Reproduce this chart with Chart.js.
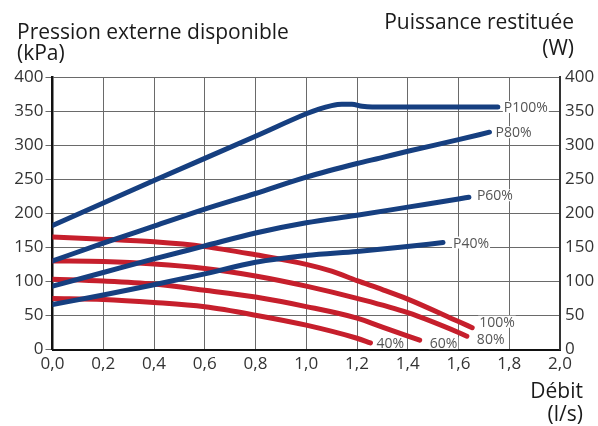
<!DOCTYPE html>
<html>
<head>
<meta charset="utf-8">
<script src="https://cdn.jsdelivr.net/npm/chart.js@4.4.1/dist/chart.umd.min.js"></script>
<style>
  html,body{margin:0;padding:0;background:#fff}
  #wrap{width:598px;height:426px;position:relative}
</style>
</head>
<body>
<div id="wrap"><canvas id="chart" width="598" height="426"></canvas></div>
<script>
// ---- data ----
// Puissance restituée (W), bleu
const p100X=[0,0.4,0.8,1.0,1.05,1.1,1.14,1.18,1.22,1.26,1.5,1.755];
const p100Y=[182,248,313,346,353,358,360,360,357,356,356,356];
const p80X=[0,0.2,0.4,0.6,0.8,1.0,1.2,1.29,1.4,1.6,1.722];
const p80Y=[130,156,181,206,229,253,273,281,291,308,319];
const p60X=[0,0.2,0.4,0.6,0.8,1.0,1.2,1.4,1.6,1.641];
const p60Y=[93,113,133,152,171,186,197,209,221,223.5];
const p40X=[0,0.2,0.4,0.6,0.8,1.0,1.2,1.37,1.539];
const p40Y=[66,80,95,111,128,138,144,150,157];
// Pression externe disponible (kPa), rouge
const r100X=[0,0.2,0.4,0.6,0.8,1.0,1.1,1.2,1.3,1.4,1.6,1.654];
const r100Y=[165,162,158,151,139,125,115,101,88,74,41,32];
const r80X=[0,0.2,0.4,0.6,0.8,1.0,1.2,1.4,1.6,1.633];
const r80Y=[130,129,125.5,119,108,93,75,54,25,19.5];
const r60X=[0,0.2,0.4,0.6,0.8,1.0,1.2,1.3,1.447];
const r60Y=[103,100.5,96,87,77,63,46,33,13.7];
const r40X=[0,0.2,0.4,0.6,0.8,1.0,1.2,1.253];
const r40Y=[75,73.5,69,62.6,50.4,35.7,16.5,9.7];

const seriesLabels=['P100%','P80%','P60%','P40%','100%','80%','60%','40%'];
const xMin=0, xMax=2, xStep=0.2;
const yMin=0, yMax=400, yStep=50;

const BLUE='#163f80';
const RED='#c61f2c';
const FONT='"Open Sans", "Noto Sans", sans-serif';

function pts(xs,ys){ return xs.map((x,i)=>({x:x,y:ys[i]})); }

// label offsets (px) from the last point of each curve
const labelOffsets=[[3,0],[3,0],[5,-2],[7,0],[4,-6],[7,3],[7,3],[3,0]];

const curves=[
  [p100X,p100Y,BLUE,'y1'],[p80X,p80Y,BLUE,'y1'],[p60X,p60Y,BLUE,'y1'],[p40X,p40Y,BLUE,'y1'],
  [r100X,r100Y,RED,'y'],[r80X,r80Y,RED,'y'],[r60X,r60Y,RED,'y'],[r40X,r40Y,RED,'y'],
];
const datasets=curves.map((c,i)=>({
  label:seriesLabels[i],
  data:pts(c[0],c[1]),
  borderColor:c[2],
  yAxisID:c[3],
  borderWidth:5,
  labelDx:labelOffsets[i][0],
  labelDy:labelOffsets[i][1],
}));

// end-of-curve labels with white background (hides the grid behind them)
const endLabels={
  id:'endLabels',
  _boxes(chart){
    const ctx=chart.ctx;
    ctx.font='14px '+FONT;
    return chart.data.datasets.map((ds,i)=>{
      const meta=chart.getDatasetMeta(i);
      const last=meta.data[meta.data.length-1];
      const w=ctx.measureText(ds.label).width;
      const x=last.x+ds.labelDx+3, y=last.y+ds.labelDy;
      return {x,y,w,text:ds.label};
    });
  },
  beforeDatasetsDraw(chart){
    const ctx=chart.ctx;
    ctx.save();
    const boxes=this._boxes(chart);
    ctx.fillStyle='#fff';
    boxes.forEach(b=>ctx.fillRect(b.x-1,b.y-6,b.w+2,12));
    ctx.restore();
  },
  afterDatasetsDraw(chart){
    const ctx=chart.ctx;
    ctx.save();
    const boxes=this._boxes(chart);
    ctx.font='14px '+FONT;
    ctx.fillStyle='#555';
    ctx.textAlign='left';
    ctx.textBaseline='middle';
    boxes.forEach(b=>ctx.fillText(b.text,b.x,b.y+1));
    ctx.restore();
  }
};

// axis titles
const axisTitles={
  id:'axisTitles',
  afterDraw(chart){
    const ctx=chart.ctx;
    ctx.save();
    ctx.fillStyle='#1a1a1a';
    ctx.font='21px '+FONT;
    ctx.textBaseline='alphabetic';
    ctx.textAlign='left';
    ctx.fillText('Pression externe disponible',17,39);
    ctx.fillText('(kPa)',17,60);
    ctx.textAlign='right';
    ctx.fillText('Puissance restituée',574,29);
    ctx.fillText('(W)',574,55);
    ctx.fillText('Débit',583,398);
    ctx.fillText('(l/s)',583,421);
    ctx.restore();
  }
};

const tickFont={family:FONT,size:17};

new Chart(document.getElementById('chart'),{
  type:'line',
  data:{datasets},
  options:{
    responsive:false,
    animation:false,
    layout:{padding:{top:77,left:0,right:0,bottom:0}},
    plugins:{legend:{display:false},tooltip:{enabled:false}},
    elements:{
      point:{radius:0,hoverRadius:0},
      line:{borderCapStyle:'round',borderJoinStyle:'round',cubicInterpolationMode:'monotone'}
    },
    scales:{
      x:{
        type:'linear',min:xMin,max:xMax,
        afterFit:s=>{s.height=76.5;},
        ticks:{stepSize:xStep,padding:4,color:'#333',font:tickFont,
          callback:v=>v.toFixed(1).replace('.',',')},
        grid:{color:'#6a6a6a',lineWidth:1,drawTicks:false},
        border:{color:'#111',width:2}
      },
      y:{
        position:'left',min:yMin,max:yMax,
        afterFit:s=>{s.width=52.5;},
        ticks:{stepSize:yStep,padding:2,color:'#333',font:tickFont},
        grid:{color:'#6a6a6a',lineWidth:1,tickLength:7},
        border:{color:'#111',width:2.5}
      },
      y1:{
        position:'right',min:yMin,max:yMax,
        afterFit:s=>{s.width=38;},
        ticks:{stepSize:yStep,padding:5,color:'#333',font:tickFont},
        grid:{drawOnChartArea:false,drawTicks:false},
        border:{color:'#333',width:2}
      }
    }
  },
  plugins:[endLabels,axisTitles]
});
</script>
</body>
</html>
